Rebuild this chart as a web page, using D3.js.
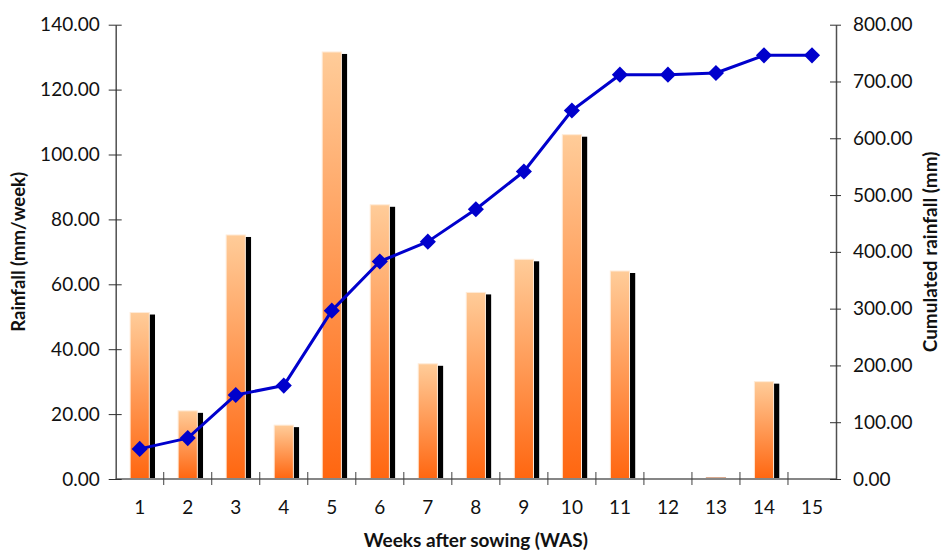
<!DOCTYPE html>
<html>
<head>
<meta charset="utf-8">
<script src="https://cdn.jsdelivr.net/npm/d3@7"></script>
<style>
  html, body { margin: 0; padding: 0; background: #fff; }
  svg { display: block; font-family: Lato, "Open Sans", sans-serif; }
</style>
</head>
<body>
<svg id="chart" width="941" height="557"></svg>
<script>
// Weekly rainfall and cumulated rainfall by week after sowing
const weeks = ["1","2","3","4","5","6","7","8","9","10","11","12","13","14","15"];
const weeklyRain = [51.3, 21.0, 75.2, 16.6, 131.6, 84.5, 35.5, 57.5, 67.7, 106.1, 64.1, 0, 0.3, 30.0, 0];
const cumulRain = [53, 72, 148, 164.5, 296.5, 383, 418, 475, 541.5, 649, 712, 712, 715, 746, 746];
const leftTicks = [0, 20, 40, 60, 80, 100, 120, 140];
const rightTicks = [0, 100, 200, 300, 400, 500, 600, 700, 800];

const svg = d3.select("#chart");
const plot = { left: 115.7, right: 836, top: 24.7, bottom: 479 };

const x = d3.scaleBand().domain(weeks).range([plot.left, plot.right]).padding(0);
const yL = d3.scaleLinear().domain([0, 140]).range([plot.bottom, plot.top]);
const yR = d3.scaleLinear().domain([0, 800]).range([plot.bottom, plot.top]);

// bar gradient: light peach at the top, orange at the base
const defs = svg.append("defs");
const grad = defs.append("linearGradient").attr("id", "barFill")
  .attr("x1", 0).attr("y1", 0).attr("x2", 0).attr("y2", 1);
grad.append("stop").attr("offset", "0%").attr("stop-color", "#FFCC99");
grad.append("stop").attr("offset", "100%").attr("stop-color", "#FF6610");

const barW = x.bandwidth() * 0.4;
const cx = d => x(d) + x.bandwidth() / 2;

// shadows behind the bars
svg.append("g").selectAll("rect").data(weeks).join("rect")
  .attr("x", (d) => cx(d) - barW / 2 + 5.7)
  .attr("y", (d, i) => Math.min(yL(weeklyRain[i]) + 2, plot.bottom))
  .attr("width", barW)
  .attr("height", (d, i) => Math.max(0, plot.bottom - yL(weeklyRain[i]) - 2))
  .attr("fill", "#000");

// bars
svg.append("g").selectAll("rect").data(weeks).join("rect")
  .attr("x", d => cx(d) - barW / 2)
  .attr("y", (d, i) => yL(weeklyRain[i]))
  .attr("width", barW)
  .attr("height", (d, i) => plot.bottom - yL(weeklyRain[i]))
  .attr("fill", "url(#barFill)")
  .attr("stroke", (d, i) => weeklyRain[i] > 0.5 ? "#FFEBD8" : "#B0501A")
  .attr("stroke-width", 1);

// x baseline and category separators
svg.append("line")
  .attr("x1", plot.left).attr("x2", plot.right)
  .attr("y1", plot.bottom).attr("y2", plot.bottom)
  .attr("stroke", "#868686").attr("stroke-width", 2);

svg.append("g").selectAll("line").data(weeks.slice(0, -1)).join("line")
  .attr("x1", d => x(d) + x.bandwidth()).attr("x2", d => x(d) + x.bandwidth())
  .attr("y1", plot.bottom - 7).attr("y2", plot.bottom + 6)
  .attr("stroke", "#404040").attr("stroke-width", 1);

// x labels
const xAxis = svg.append("g").attr("transform", `translate(0,${plot.bottom})`)
  .call(d3.axisBottom(x).tickSize(0).tickPadding(22));
xAxis.select(".domain").remove();
xAxis.selectAll("text").attr("font-size", 19).attr("fill", "#111")
  .attr("font-family", "Lato, sans-serif");

// left axis
const gL = svg.append("g").attr("transform", `translate(${plot.left},0)`)
  .call(d3.axisLeft(yL).tickValues(leftTicks).tickFormat(d3.format(".2f"))
    .tickSize(7).tickSizeOuter(0).tickPadding(9));
gL.select(".domain").attr("stroke", "#505050").attr("stroke-width", 1.5);
gL.selectAll(".tick line").attr("x1", 6).attr("stroke", "#303030");
gL.selectAll("text").attr("font-size", 19).attr("fill", "#111")
  .attr("font-family", "Lato, sans-serif");

// right axis
const gR = svg.append("g").attr("transform", `translate(${plot.right},0)`)
  .call(d3.axisRight(yR).tickValues(rightTicks).tickFormat(d3.format(".2f"))
    .tickSize(5).tickSizeOuter(0).tickPadding(12));
gR.select(".domain").attr("stroke", "#505050").attr("stroke-width", 1.5);
gR.selectAll(".tick line").attr("x1", -6).attr("stroke", "#303030");
gR.selectAll("text").attr("font-size", 19).attr("fill", "#111")
  .attr("font-family", "Lato, sans-serif");

// cumulated rainfall line with diamond markers
const line = d3.line().x((d, i) => cx(weeks[i])).y(d => yR(d));
svg.append("path").datum(cumulRain)
  .attr("d", line)
  .attr("fill", "none").attr("stroke", "#0000CC").attr("stroke-width", 3)
  .attr("stroke-linejoin", "round");

const diamond = d3.symbol().type(d3.symbolSquare).size(130);
svg.append("g").selectAll("path").data(cumulRain).join("path")
  .attr("d", diamond)
  .attr("transform", (d, i) => `translate(${cx(weeks[i])},${yR(d)}) rotate(45)`)
  .attr("fill", "#0000CC");

// axis titles
svg.append("text")
  .attr("transform", `translate(25,${(plot.top + plot.bottom) / 2}) rotate(-90)`)
  .attr("text-anchor", "middle")
  .attr("font-size", 18.5).attr("font-weight", "bold").attr("fill", "#111")
  .text("Rainfall (mm/week)");

svg.append("text")
  .attr("transform", `translate(937,${(plot.top + plot.bottom) / 2}) rotate(-90)`)
  .attr("text-anchor", "middle")
  .attr("font-size", 19).attr("font-weight", "bold").attr("fill", "#111")
  .text("Cumulated rainfall (mm)");

svg.append("text")
  .attr("x", (plot.left + plot.right) / 2).attr("y", 547)
  .attr("text-anchor", "middle")
  .attr("font-size", 19).attr("font-weight", "bold").attr("fill", "#111")
  .text("Weeks after sowing (WAS)");
</script>
</body>
</html>
